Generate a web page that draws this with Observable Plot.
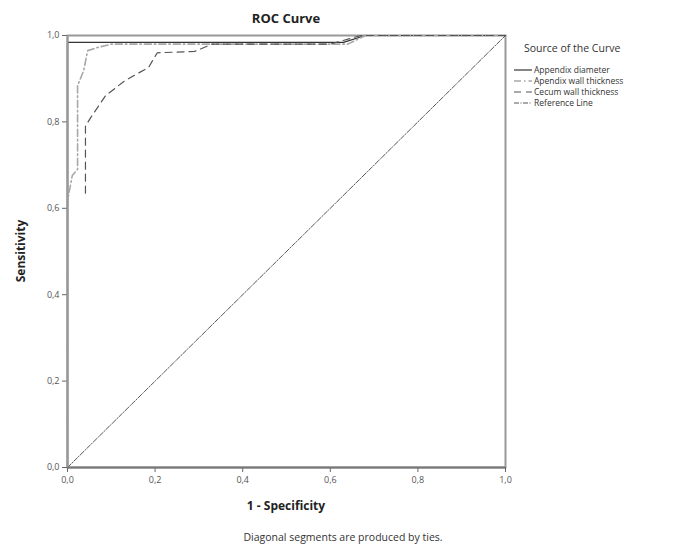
<!DOCTYPE html>
<html>
<head>
<meta charset="utf-8">
<script src="https://cdn.jsdelivr.net/npm/d3@7"></script>
<script src="https://cdn.jsdelivr.net/npm/@observablehq/plot@0.6"></script>
<style>
  html, body { margin: 0; padding: 0; background: #fff; }
  #wrap { position: relative; width: 687px; height: 550px; font-family: "Open Sans", "DejaVu Sans", sans-serif; color: #222; }
  .abs { position: absolute; white-space: nowrap; }
  #title { left: 286px; top: 9px; transform: translateX(-50%); font-size: 13px; font-weight: bold; }
  #xlabel { left: 286px; top: 497px; transform: translateX(-50%); font-size: 12px; font-weight: bold; }
  #ylabel { left: 20px; top: 251px; transform: translate(-50%, -50%) rotate(-90deg); font-size: 12px; font-weight: bold; }
  #caption { left: 343px; top: 530px; transform: translateX(-50%); font-size: 10.5px; color: #333; }
  #legend { left: 514px; top: 41px; font-size: 8.5px; color: #333; }
  #legend .lt { font-size: 10.5px; margin-left: 10px; margin-bottom: 9px; line-height: 14px; }
  #legend .row { display: flex; align-items: center; height: 11px; line-height: 11px; overflow: visible; }
  #legend svg { margin-right: 2px; flex: none; }
</style>
</head>
<body>
<div id="wrap">
  <div id="chart"></div>
</div>
<script>
// ---- data ----
const diameterX = [0, 0, 0.63, 0.68, 1];
const diameterY = [0, 0.984, 0.984, 1, 1];

const wallX = [0, 0, 0.011, 0.023, 0.023, 0.037, 0.046, 0.068, 0.10, 0.64, 0.68, 1];
const wallY = [0, 0.618, 0.676, 0.69, 0.884, 0.919, 0.965, 0.972, 0.98, 0.98, 1, 1];

const cecumX = [0.041, 0.041, 0.053, 0.087, 0.132, 0.185, 0.205, 0.29, 0.33, 0.60, 0.67, 1];
const cecumY = [0.635, 0.79, 0.81, 0.861, 0.896, 0.926, 0.96, 0.963, 0.98, 0.98, 1, 1];

const refX = [0, 1];
const refY = [0, 1];

const ticks = [0, 0.2, 0.4, 0.6, 0.8, 1.0];
const seriesNames = ["Appendix diameter", "Apendix wall thickness", "Cecum wall thickness", "Reference Line"];

const titleText = "ROC Curve";
const xLabelText = "1 - Specificity";
const yLabelText = "Sensitivity";
const captionText = "Diagonal segments are produced by ties.";
const legendTitle = "Source of the Curve";

// ---- styles ----
const styles = [
  {stroke: "#333", strokeWidth: 1.2, dash: null},
  {stroke: "#a8a8a8", strokeWidth: 1.6, dash: "7,3,1.5,3"},
  {stroke: "#555", strokeWidth: 1.2, dash: "7,5"},
  {stroke: "#444", strokeWidth: 0.9, dash: "5,1.5,1,1.5"}
];

const toPts = (xs, ys) => xs.map((x, i) => ({x, y: ys[i]}));
const seriesData = [
  toPts(diameterX, diameterY),
  toPts(wallX, wallY),
  toPts(cecumX, cecumY),
  toPts(refX, refY)
];

const fmt = d => d3.format(".1f")(d).replace(".", ",");

const chart = Plot.plot({
  width: 687,
  height: 550,
  marginLeft: 67,
  marginRight: 182,
  marginTop: 35,
  marginBottom: 83,
  style: {fontFamily: "'Open Sans', 'DejaVu Sans', sans-serif", fontSize: "9px", color: "#444", background: "white"},
  x: {domain: [0, 1]},
  y: {domain: [0, 1]},
  marks: [
    Plot.frame({stroke: "#999", strokeWidth: 2}),
    ...seriesData.map((d, i) => Plot.line(d, {
      x: "x", y: "y",
      stroke: styles[i].stroke,
      strokeWidth: styles[i].strokeWidth,
      strokeDasharray: styles[i].dash
    })),
    Plot.axisX({ticks, tickFormat: fmt, tickSize: 5, tickPadding: 4, label: null, stroke: "#666", fill: "#555"}),
    Plot.axisY({ticks, tickFormat: fmt, tickSize: 5, tickPadding: 3, label: null, stroke: "#666", fill: "#555"}),
    Plot.ruleY([0], {stroke: "#777", strokeWidth: 2}),
    Plot.ruleX([0], {stroke: "#999", strokeWidth: 2})
  ]
});
document.getElementById("chart").appendChild(chart);

const wrap = document.getElementById("wrap");
function addText(id, txt) {
  const el = document.createElement("div");
  el.id = id; el.className = "abs"; el.textContent = txt;
  wrap.appendChild(el);
  return el;
}
addText("title", titleText);
addText("xlabel", xLabelText);
addText("ylabel", yLabelText);
addText("caption", captionText);

const leg = document.createElement("div");
leg.id = "legend"; leg.className = "abs";
const lt = document.createElement("div");
lt.className = "lt"; lt.textContent = legendTitle;
leg.appendChild(lt);
seriesNames.forEach((name, i) => {
  const row = document.createElement("div");
  row.className = "row";
  const s = styles[i];
  row.innerHTML = `<svg width="18" height="8"><line x1="0" y1="4" x2="18" y2="4" stroke="${s.stroke}" stroke-width="${s.strokeWidth}" ${s.dash ? `stroke-dasharray="${s.dash}"` : ""}/></svg>`;
  const span = document.createElement("span");
  span.textContent = name;
  row.appendChild(span);
  leg.appendChild(row);
});
wrap.appendChild(leg);
</script>
</body>
</html>
